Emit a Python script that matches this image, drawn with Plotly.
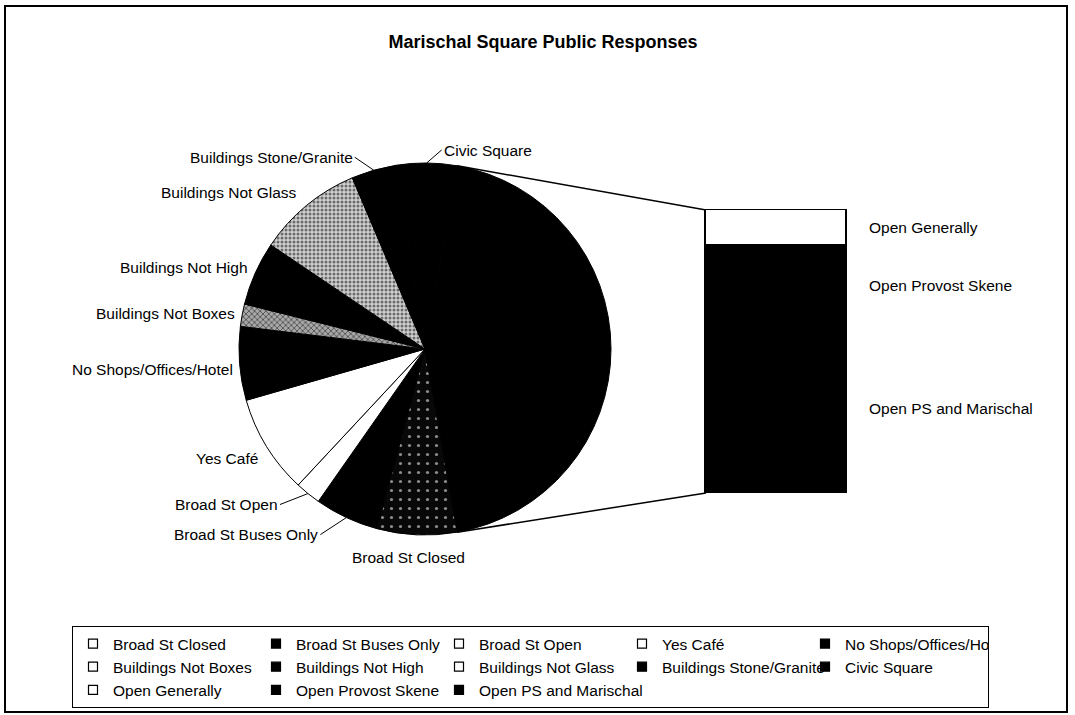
import math
import plotly.graph_objects as go

# ---------------- data ----------------
title_text = "Marischal Square Public Responses"
pie_labels = ["Broad St Closed", "Broad St Buses Only", "Broad St Open", "Yes Café",
              "No Shops/Offices/Hotel", "Buildings Not Boxes", "Buildings Not High",
              "Buildings Not Glass", "Buildings Stone/Granite", "Civic Square"]
pie_values = [25, 20, 8, 31, 23, 7, 20, 33, 14, 19]
bar_labels = ["Open Generally", "Open Provost Skene", "Open PS and Marischal"]
bar_values = [20, 45, 95]

# ---------------- styles ----------------
FONT = "Liberation Sans, Arial, sans-serif"
pie_colors = ["#080808", "#000000", "#ffffff", "#ffffff", "#000000",
              "#a8a8a8", "#000000", "#d0d0d0", "#000000", "#000000"]
pie_shapes = [".", "", "", "", "", "x", "", ".", "", ""]
pie_fg = ["#8c8c8c", "#000000", "#000000", "#000000", "#000000",
          "#303030", "#000000", "#6a6a6a", "#000000", "#000000"]
pie_psize = [9, 8, 8, 8, 8, 4, 8, 4, 8, 8]
pie_solid = [0.1, 0.3, 0.3, 0.3, 0.3, 0.3, 0.3, 0.45, 0.3, 0.3]
other_color = "#000000"
bar_colors = ["#ffffff", "#000000", "#000000"]
legend_fill = ["#ffffff", "#000000", "#ffffff", "#ffffff", "#000000",
               "#ffffff", "#000000", "#ffffff", "#000000", "#000000",
               "#ffffff", "#000000", "#000000"]
# label offsets (pixels) from the slice's arc midpoint
label_place = {
    "Broad St Closed": (-8, 23, "center", False),
    "Broad St Buses Only": (-26, 17, "right", True),
    "Broad St Open": (-28, 11, "right", True),
    "Yes Café": (-6, 12, "right", False),
    "No Shops/Offices/Hotel": (-5, 6, "right", False),
    "Buildings Not Boxes": (-5, -2, "right", False),
    "Buildings Not High": (-5, -6, "right", False),
    "Buildings Not Glass": (-8, -13, "right", False),
    "Buildings Stone/Granite": (-19, -13, "right", True),
    "Civic Square": (15, -13, "left", True),
}

# ---------------- geometry (pixels) ----------------
W, H = 1075, 715
CX, CY, R = 425, 349, 186          # pie centre / radius
BX0, BX1, BY0, BY1 = 706, 847, 210, 493   # bar box
PADX, PADY = 0.03, 1.5             # axis padding so bar outlines are not clipped


def px(x):
    return x / W


def py(y):
    return 1 - y / H


other_total = sum(bar_values)
total = sum(pie_values) + other_total
deg = 360.0 / total
rotation = 90 + other_total * deg / 2.0

fig = go.Figure()

fig.add_trace(go.Pie(
    labels=pie_labels + ["Other"],
    values=pie_values + [other_total],
    sort=False, direction="clockwise", rotation=rotation,
    textinfo="none", textposition="none", showlegend=False,
    domain=dict(x=[px(CX - R), px(CX + R)], y=[py(CY + R), py(CY - R)]),
    marker=dict(colors=pie_colors + [other_color],
                line=dict(color="#000000", width=1),
                pattern=dict(shape=pie_shapes + [""], fgcolor=pie_fg + ["#000000"],
                             bgcolor=pie_colors + [other_color],
                             size=pie_psize + [8], solidity=pie_solid + [0.3])),
    hoverinfo="label+value",
))

for lab, val, col in zip(bar_labels, bar_values, bar_colors):
    fig.add_trace(go.Bar(x=[0], y=[val], width=1, name=lab, showlegend=False,
                         marker=dict(color=col, line=dict(color="#000000", width=1.5)),
                         xaxis="x2", yaxis="y2"))

# legend entries
for lab, fill in zip(pie_labels + bar_labels, legend_fill):
    fig.add_trace(go.Scatter(x=[None], y=[None], mode="markers", name=lab,
                             marker=dict(symbol="square", size=9, color=fill,
                                         line=dict(color="#000000", width=1.2)),
                             xaxis="x2", yaxis="y2", hoverinfo="skip"))

annotations = []
a = rotation
for lab, val in zip(pie_labels, pie_values):
    mid = math.radians(a + val * deg / 2.0)
    a += val * deg
    x0 = CX + R * math.sin(mid)
    y0 = CY - R * math.cos(mid)
    dx, dy, xa, leader = label_place[lab]
    if leader:
        annotations.append(dict(x=px(x0), y=py(y0), xref="paper", yref="paper",
                                text=lab, showarrow=True, ax=dx, ay=dy,
                                xanchor=xa, yanchor="middle", arrowhead=0,
                                arrowwidth=1, arrowcolor="#000000", standoff=0,
                                font=dict(family=FONT, size=15.5, color="#000")))
    else:
        annotations.append(dict(x=px(x0), y=py(y0), xref="paper", yref="paper",
                                text=lab, showarrow=False, xshift=dx, yshift=-dy,
                                xanchor=xa, yanchor="middle",
                                font=dict(family=FONT, size=15.5, color="#000")))

cum = 0
for lab, val in zip(bar_labels, bar_values):
    annotations.append(dict(x=px(BX1), y=cum + val / 2.0, xref="paper", yref="y2",
                            text=lab, showarrow=False, xanchor="left", xshift=20,
                            yanchor="middle",
                            font=dict(family=FONT, size=15.5, color="#000")))
    cum += val

# connector lines from "other" wedge edges to bar corners
a_start = math.radians(rotation + sum(pie_values) * deg)
a_end = math.radians(rotation + total * deg)
shapes = []
for ang, by in ((a_start, BY0), (a_end, BY1)):
    shapes.append(dict(type="line", xref="paper", yref="paper",
                       x0=px(CX + R * math.sin(ang)), y0=py(CY - R * math.cos(ang)),
                       x1=px(BX0), y1=py(by), line=dict(color="#000000", width=1.5)))
# chart frame
shapes.append(dict(type="rect", xref="paper", yref="paper",
                   x0=px(5), x1=px(1067), y0=py(712), y1=py(6),
                   line=dict(color="#000000", width=2), layer="below"))

xpad_px = PADX * (BX1 - BX0)
ypad_px = PADY * (BY1 - BY0) / other_total

fig.update_layout(
    width=W, height=H,
    margin=dict(l=0, r=0, t=0, b=0),
    paper_bgcolor="#ffffff", plot_bgcolor="rgba(0,0,0,0)",
    font=dict(family=FONT, color="#000000"),
    title=dict(text=title_text, x=px(543), y=py(42), xanchor="center", yanchor="middle",
               font=dict(family=FONT, size=18, color="#000000", weight="bold")),
    barmode="stack", bargap=0,
    xaxis=dict(visible=False),
    yaxis=dict(visible=False),
    xaxis2=dict(domain=[px(BX0 - xpad_px), px(BX1 + xpad_px)],
                range=[-0.5 - PADX, 0.5 + PADX], visible=False, anchor="y2"),
    yaxis2=dict(domain=[py(BY1 + ypad_px), py(BY0 - ypad_px)],
                range=[other_total + PADY, -PADY], visible=False, anchor="x2"),
    legend=dict(orientation="h", x=px(72), xanchor="left", y=py(626), yanchor="top",
                entrywidth=138, entrywidthmode="pixels", itemwidth=30,
                traceorder="normal",
                bordercolor="#000000", borderwidth=1, bgcolor="#ffffff",
                font=dict(family=FONT, size=15.5, color="#000000"), tracegroupgap=0),
    annotations=annotations,
    shapes=shapes,
    showlegend=True,
)

fig.write_html("out.html", config={"displayModeBar": False},
               post_script="document.body.style.margin='0';")
